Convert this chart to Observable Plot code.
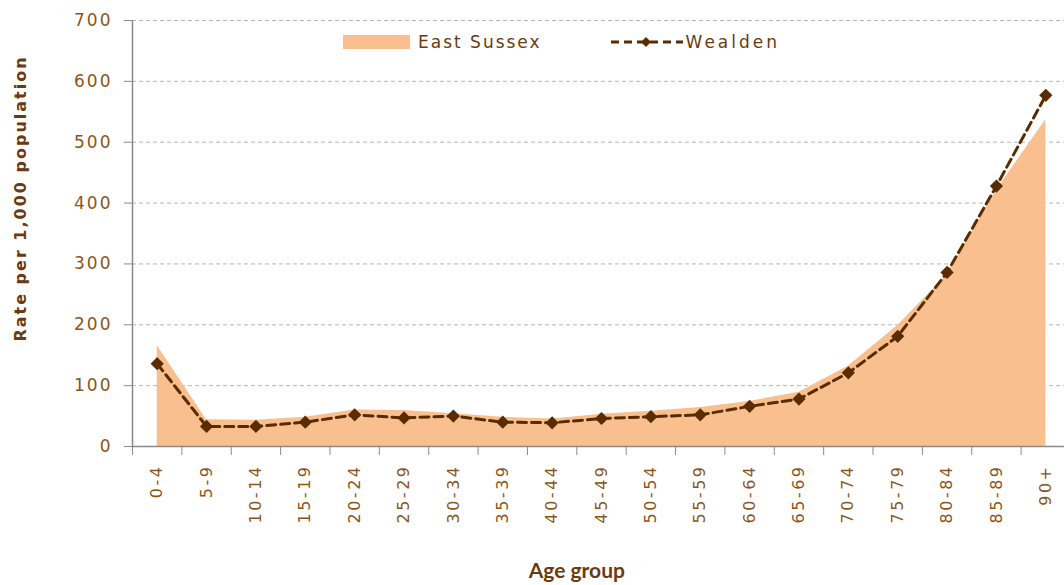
<!DOCTYPE html>
<html>
<head>
<meta charset="utf-8">
<script src="https://cdn.jsdelivr.net/npm/d3@7"></script>
<script src="https://cdn.jsdelivr.net/npm/@observablehq/plot@0.6"></script>
<style>
  body { margin: 0; background: #fff; }
  #wrap { position: relative; width: 1064px; height: 585px; overflow: hidden; }
  #legend { position: absolute; left: 343px; top: 32px; font-family: "DejaVu Sans", Verdana, sans-serif; font-size: 17px; letter-spacing: 2px; color: #6B3A10; display: flex; align-items: center; }
  #legend .item { display: flex; align-items: center; }
  g[aria-label="y-axis tick label"] text { font-size: 17px !important; letter-spacing: 2px; }
  g[aria-label="x-axis tick label"] text { font-size: 16px !important; letter-spacing: 2.5px; }
</style>
</head>
<body>
<div id="wrap">
  <div id="chart"></div>
  <div id="legend"></div>
</div>
<script>
const ageGroups = ["0-4","5-9","10-14","15-19","20-24","25-29","30-34","35-39","40-44","45-49","50-54","55-59","60-64","65-69","70-74","75-79","80-84","85-89","90+"];
const eastSussex = [166, 44, 43, 48, 60, 59, 54, 48, 45, 53, 58, 64, 74, 89, 132, 199, 282, 421, 537];
const wealden = [136, 33, 33, 40, 52, 47, 50, 40, 39, 46, 49, 52, 66, 78, 121, 181, 286, 428, 577];
const yTicks = [0, 100, 200, 300, 400, 500, 600, 700];
const seriesNames = ["East Sussex", "Wealden"];

const data = ageGroups.map((g, i) => ({i, group: g, es: eastSussex[i], w: wealden[i]}));

const tickColor = "#8C5518";
const titleColor = "#6B3A10";
const lineColor = "#5A2D00";
const areaColor = "#F9BF8F";
const axisGray = "#8a8a8a";

const chart = Plot.plot({
  width: 1064,
  height: 585,
  marginLeft: 132,
  marginRight: 0,
  marginTop: 20,
  marginBottom: 139,
  style: {fontFamily: "DejaVu Sans, Verdana, sans-serif", fontSize: "15px", background: "#fff", overflow: "hidden"},
  x: {domain: [-0.5, ageGroups.length - 0.5], range: [132, 1070]},
  y: {domain: [0, 700], range: [446, 20]},
  marks: [
    Plot.ruleY(yTicks.filter(d => d > 0), {stroke: "#b5b5b5", strokeDasharray: "4,3", strokeWidth: 1, x1: -0.5, x2: ageGroups.length - 0.5}),
    Plot.areaY(data, {x: "i", y: "es", fill: areaColor}),
    Plot.lineY(data, {x: "i", y: "w", stroke: lineColor, strokeWidth: 3, strokeDasharray: "9,5"}),
    Plot.dot(data, {x: "i", y: "w", symbol: "diamond2", r: 5, fill: lineColor, stroke: lineColor, strokeWidth: 1.5}),
    Plot.ruleY([0], {stroke: axisGray, strokeWidth: 1.5}),
    Plot.ruleX([-0.5], {stroke: axisGray, strokeWidth: 1.5, y1: 0, y2: 700}),
    Plot.axisY({ticks: yTicks, tickSize: 8, tickPadding: 12, stroke: axisGray, fill: tickColor, label: null}),
    Plot.axisX({ticks: d3.range(ageGroups.length).map(i => i - 0.5), tickSize: 9, stroke: axisGray, tickFormat: () => "", label: null}),
    Plot.axisX({ticks: d3.range(ageGroups.length), tickSize: 0, tickPadding: 18, tickRotate: -90, tickFormat: i => ageGroups[i], fill: tickColor, label: null}),
    Plot.text(["Rate per 1,000 population"], {frameAnchor: "left", textAnchor: "middle", dx: -112, dy: -35, rotate: -90, fill: titleColor, fontWeight: "bold", fontSize: 16}),
    Plot.text(["Age group"], {frameAnchor: "bottom", dy: 131, x: 8.5, fill: titleColor, fontWeight: "bold", fontSize: 21, fontFamily: "Lato, sans-serif"})
  ]
});
document.getElementById("chart").appendChild(chart);
d3.select(chart).selectAll("text")
  .filter(function() { return this.textContent === "Rate per 1,000 population"; })
  .style("letter-spacing", "2px");

const legend = document.getElementById("legend");
legend.innerHTML = `
  <div class="item"><span style="display:inline-block;width:67px;height:14px;background:${areaColor};margin-right:8px"></span><span>${seriesNames[0]}</span></div>
  <div class="item" style="margin-left:68px"><svg width="74" height="16" style="margin-right:2px"><line x1="1" y1="8" x2="73" y2="8" stroke="${lineColor}" stroke-width="3" stroke-dasharray="8,5"/><path d="M36,3 L41,8 L36,13 L31,8 Z" fill="${lineColor}"/></svg><span style="letter-spacing:3px">${seriesNames[1]}</span></div>
`;
</script>
</body>
</html>
